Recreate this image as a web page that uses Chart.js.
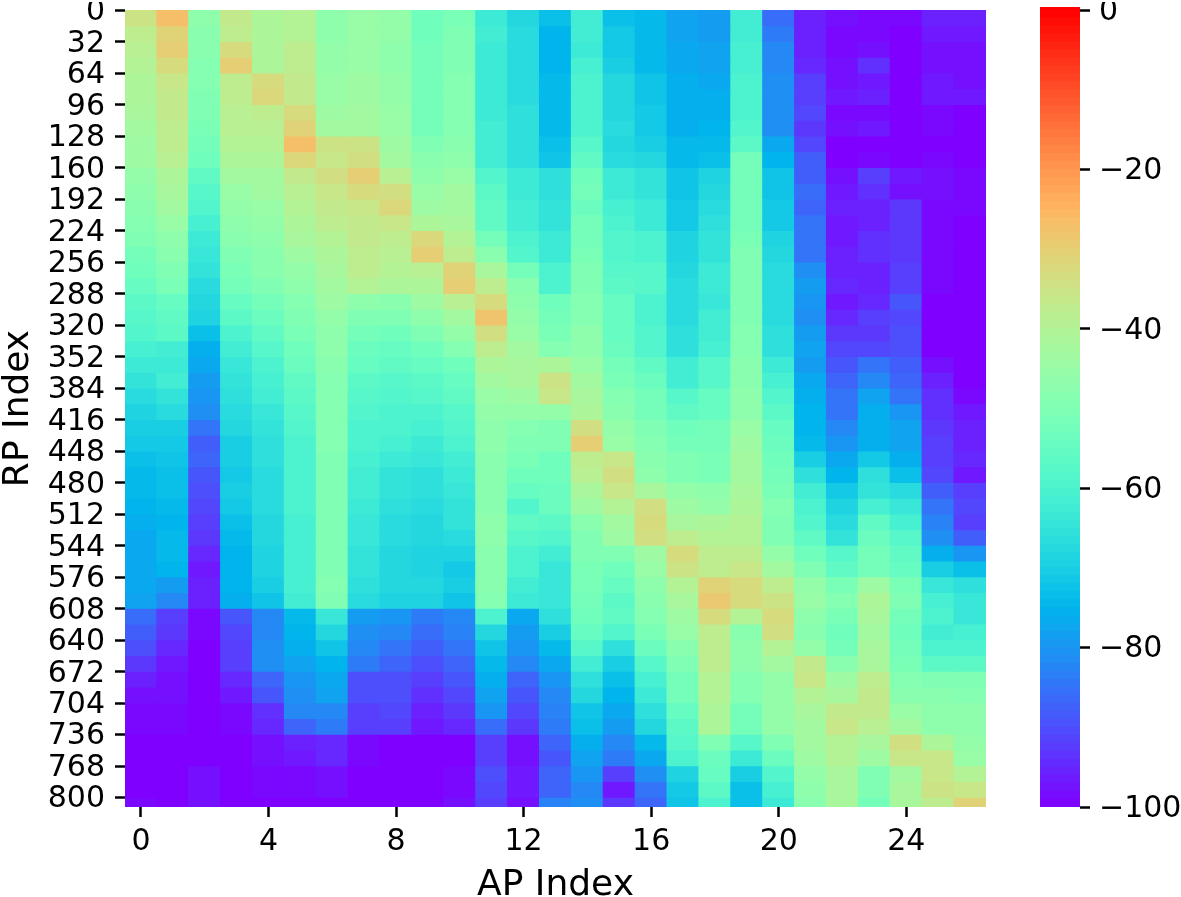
<!DOCTYPE html>
<html>
<head>
<meta charset="utf-8">
<script src="https://cdn.jsdelivr.net/npm/chart.js@4"></script>
<style>
body { margin: 0; background: #fff; }
canvas { position: absolute; top: 0; }
#heat { left: 0; }
#cbar { left: 1000px; }
</style>
</head>
<body>
<canvas id="heat" width="1000" height="897"></canvas>
<canvas id="cbar" width="181" height="897"></canvas>
<script>
const apLabels = ['0','1','2','3','4','5','6','7','8','9','10','11','12','13','14','15','16','17','18','19','20','21','22','23','24','25','26'];
const rpStarts = [0,16,32,48,64,80,96,112,128,144,160,176,192,208,224,240,256,272,288,304,320,336,352,368,384,400,416,432,448,464,480,496,512,528,544,560,576,592,608,624,640,656,672,688,704,720,736,752,768,784,800];
const rpEnd = 810;
const rpTicks = [0,32,64,96,128,160,192,224,256,288,320,352,384,416,448,480,512,544,576,608,640,672,704,736,768,800];
const apTicks = [0,4,8,12,16,20,24];
const cbarTicks = [0,-20,-40,-60,-80,-100];

// one list per AP, one value (dBm) per RP band
const rssByAp = [
[-35,-38,-39,-40,-41,-41,-42,-43,-44,-44,-46,-47,-48,-49,-50,-52,-53,-55,-57,-58,-59,-61,-63,-65,-67,-69,-70,-71,-73,-74,-74,-75,-76,-77,-77,-77,-77,-78,-86,-88,-90,-93,-96,-98,-99,-99,-100,-100,-100,-100,-99],
[-27,-31,-30,-33,-36,-37,-37,-38,-38,-39,-41,-42,-43,-45,-47,-48,-50,-51,-55,-56,-57,-62,-63,-62,-65,-67,-70,-71,-72,-73,-73,-74,-75,-74,-74,-75,-79,-82,-92,-93,-95,-97,-98,-98,-99,-99,-100,-100,-100,-100,-100],
[-47,-48,-48,-49,-49,-50,-50,-51,-52,-53,-56,-58,-59,-61,-63,-64,-65,-67,-68,-69,-73,-76,-77,-79,-80,-81,-85,-88,-87,-89,-90,-91,-92,-93,-95,-97,-96,-96,-99,-99,-100,-100,-100,-100,-100,-100,-100,-100,-98,-98,-98],
[-37,-38,-33,-30,-38,-38,-39,-39,-40,-41,-43,-45,-46,-47,-48,-50,-51,-52,-55,-57,-60,-62,-64,-65,-66,-67,-68,-70,-70,-71,-70,-71,-73,-74,-75,-75,-75,-76,-89,-91,-92,-92,-95,-97,-99,-99,-100,-100,-100,-100,-100],
[-41,-41,-41,-41,-33,-32,-38,-39,-40,-41,-43,-43,-45,-46,-47,-48,-48,-50,-52,-54,-56,-58,-60,-61,-62,-64,-65,-66,-66,-67,-67,-67,-68,-68,-69,-69,-70,-72,-82,-82,-81,-81,-87,-89,-94,-95,-98,-98,-99,-99,-100],
[-40,-40,-38,-38,-37,-37,-33,-31,-27,-32,-37,-39,-40,-41,-42,-44,-46,-47,-49,-50,-51,-53,-54,-56,-57,-58,-59,-60,-60,-60,-60,-60,-61,-61,-61,-61,-61,-62,-74,-75,-76,-78,-80,-81,-82,-87,-96,-97,-99,-99,-100],
[-47,-47,-46,-46,-45,-45,-44,-43,-35,-36,-34,-36,-37,-38,-40,-41,-42,-43,-44,-46,-47,-47,-48,-49,-49,-49,-49,-49,-50,-50,-50,-50,-50,-50,-50,-50,-49,-50,-64,-68,-72,-75,-77,-78,-82,-84,-95,-95,-98,-98,-100],
[-45,-45,-45,-45,-44,-44,-43,-43,-35,-34,-30,-33,-36,-37,-37,-38,-38,-40,-47,-50,-52,-54,-55,-57,-58,-59,-60,-60,-61,-62,-62,-63,-64,-64,-65,-65,-66,-67,-79,-81,-82,-84,-90,-90,-92,-92,-99,-99,-100,-100,-100],
[-46,-46,-47,-47,-46,-46,-45,-45,-44,-43,-39,-34,-32,-36,-38,-39,-40,-41,-48,-50,-53,-55,-56,-58,-59,-60,-60,-61,-63,-65,-65,-66,-67,-67,-68,-68,-68,-69,-80,-82,-85,-87,-90,-90,-91,-92,-100,-100,-100,-100,-100],
[-53,-53,-52,-52,-52,-52,-52,-52,-50,-48,-47,-45,-44,-41,-32,-30,-39,-41,-44,-47,-50,-53,-55,-57,-58,-60,-61,-63,-64,-66,-66,-67,-68,-68,-69,-69,-68,-69,-84,-86,-88,-90,-92,-94,-96,-97,-100,-100,-100,-100,-100],
[-51,-50,-50,-50,-49,-49,-49,-49,-48,-47,-45,-43,-43,-42,-40,-38,-31,-30,-39,-43,-46,-49,-53,-55,-56,-58,-59,-60,-62,-63,-64,-65,-65,-67,-69,-71,-70,-72,-82,-83,-85,-87,-89,-91,-93,-95,-100,-100,-99,-99,-98],
[-63,-62,-63,-63,-63,-63,-63,-62,-62,-62,-59,-57,-56,-56,-52,-48,-42,-38,-33,-28,-34,-38,-41,-43,-45,-46,-47,-47,-48,-48,-48,-48,-47,-47,-48,-48,-48,-49,-60,-68,-72,-74,-76,-78,-80,-86,-92,-92,-90,-91,-92],
[-68,-67,-67,-67,-67,-67,-66,-66,-66,-66,-63,-63,-62,-62,-60,-59,-52,-48,-47,-46,-45,-43,-42,-42,-44,-46,-49,-50,-51,-53,-55,-59,-56,-58,-60,-60,-62,-63,-77,-79,-80,-82,-87,-89,-91,-93,-98,-98,-97,-97,-98],
[-73,-75,-75,-75,-74,-74,-74,-74,-73,-72,-66,-66,-65,-65,-63,-63,-60,-60,-53,-52,-51,-49,-41,-35,-36,-46,-50,-50,-53,-53,-54,-54,-57,-59,-62,-64,-64,-64,-66,-70,-74,-77,-80,-82,-83,-84,-87,-89,-87,-87,-83],
[-62,-62,-63,-61,-60,-60,-60,-60,-58,-56,-53,-52,-54,-52,-52,-51,-50,-50,-49,-49,-47,-47,-45,-43,-42,-41,-34,-30,-38,-39,-42,-44,-48,-50,-50,-51,-51,-52,-53,-55,-58,-62,-66,-68,-72,-73,-76,-78,-80,-82,-81],
[-73,-71,-71,-70,-68,-68,-68,-67,-68,-67,-63,-63,-61,-60,-59,-59,-58,-57,-55,-55,-55,-54,-52,-51,-49,-48,-46,-45,-36,-34,-36,-40,-43,-44,-50,-53,-55,-57,-56,-59,-66,-70,-73,-75,-77,-79,-82,-84,-92,-97,-93],
[-74,-74,-74,-74,-72,-72,-71,-71,-70,-68,-65,-65,-63,-63,-60,-60,-58,-58,-60,-60,-59,-59,-56,-54,-52,-52,-50,-49,-48,-47,-42,-34,-33,-34,-44,-45,-47,-48,-49,-51,-54,-58,-61,-63,-66,-68,-74,-77,-81,-85,-87],
[-78,-78,-77,-77,-76,-76,-76,-76,-74,-74,-72,-72,-71,-71,-69,-69,-68,-67,-67,-67,-66,-66,-62,-62,-58,-56,-53,-52,-50,-50,-46,-44,-42,-38,-33,-35,-40,-42,-44,-45,-48,-50,-52,-52,-55,-57,-58,-60,-69,-71,-72],
[-79,-79,-78,-78,-77,-76,-76,-75,-74,-73,-69,-68,-67,-66,-65,-65,-63,-63,-64,-62,-62,-61,-58,-58,-55,-55,-52,-52,-51,-51,-47,-46,-41,-40,-38,-38,-31,-29,-33,-38,-38,-38,-40,-40,-41,-41,-50,-54,-55,-57,-60],
[-62,-62,-61,-61,-60,-60,-60,-59,-57,-52,-52,-52,-52,-52,-51,-50,-50,-50,-50,-50,-49,-49,-48,-48,-47,-47,-45,-44,-43,-43,-42,-41,-40,-40,-38,-36,-33,-33,-40,-48,-47,-47,-49,-49,-52,-52,-58,-63,-70,-73,-73],
[-86,-84,-82,-82,-81,-81,-81,-81,-77,-75,-72,-72,-71,-71,-69,-68,-67,-67,-67,-67,-66,-66,-63,-61,-59,-57,-55,-54,-53,-52,-51,-49,-50,-50,-46,-43,-38,-35,-33,-34,-40,-43,-46,-46,-46,-46,-50,-54,-59,-61,-63],
[-96,-96,-96,-95,-92,-92,-91,-93,-91,-88,-88,-86,-87,-85,-85,-85,-81,-79,-80,-81,-79,-78,-79,-77,-76,-75,-75,-74,-70,-66,-62,-60,-59,-56,-53,-50,-46,-45,-47,-48,-46,-37,-36,-40,-42,-43,-43,-44,-46,-47,-48],
[-98,-99,-99,-98,-98,-97,-99,-98,-100,-100,-98,-97,-96,-97,-97,-96,-96,-95,-97,-95,-93,-91,-89,-87,-85,-85,-82,-80,-77,-75,-71,-69,-67,-65,-58,-56,-51,-49,-51,-53,-52,-48,-44,-42,-37,-36,-40,-40,-42,-42,-42],
[-99,-99,-98,-94,-97,-96,-99,-97,-100,-99,-92,-94,-96,-96,-94,-94,-96,-96,-95,-92,-93,-91,-85,-82,-78,-76,-76,-76,-71,-66,-65,-61,-56,-54,-52,-52,-44,-41,-42,-43,-42,-42,-38,-37,-37,-39,-42,-44,-50,-50,-52],
[-99,-100,-100,-100,-100,-100,-100,-100,-100,-100,-97,-98,-93,-93,-93,-93,-92,-92,-89,-91,-90,-90,-88,-87,-85,-80,-78,-78,-76,-73,-67,-64,-61,-58,-56,-55,-51,-50,-52,-53,-52,-51,-49,-48,-45,-43,-34,-36,-43,-42,-42],
[-96,-97,-98,-98,-97,-97,-99,-99,-100,-99,-98,-98,-99,-99,-99,-99,-99,-99,-100,-100,-100,-100,-98,-96,-94,-94,-93,-92,-92,-91,-88,-85,-83,-81,-76,-70,-64,-61,-60,-62,-60,-57,-50,-48,-47,-47,-41,-36,-36,-35,-38],
[-96,-97,-98,-98,-98,-97,-100,-100,-100,-100,-99,-99,-99,-100,-100,-100,-100,-100,-100,-100,-100,-100,-100,-100,-99,-97,-96,-96,-95,-97,-92,-91,-92,-88,-80,-73,-66,-64,-64,-61,-60,-57,-50,-49,-47,-47,-46,-45,-40,-36,-31]
];

// matplotlib "rainbow" colormap, -100..0
function rainbow(v) {
    const t = Math.min(1, Math.max(0, (v + 100) / 100));
    const r = Math.min(1, Math.abs(2 * t - 0.5));
    const g = Math.sin(Math.PI * t);
    const b = Math.cos(Math.PI * t / 2);
    return `rgb(${Math.round(r * 255)},${Math.round(g * 255)},${Math.round(b * 255)})`;
}

function minusLabel(v) {
    return String(v).replace('-', '\u2212');
}

// y tick labels sit a touch low in the original
const nudgeYLabels = {
    id: 'nudgeYLabels',
    beforeDraw(chart) {
        const scale = chart.scales.y;
        if (scale.nudged) return;
        scale.nudged = true;
        const orig = scale.drawLabels;
        scale.drawLabels = function (area) {
            chart.ctx.save();
            chart.ctx.translate(0, 2);
            orig.call(scale, area);
            chart.ctx.restore();
        };
    }
};

const fontFam = '"DejaVu Sans"';

const heatSets = rpStarts.map((start, i) => {
    const end = i + 1 < rpStarts.length ? rpStarts[i + 1] : rpEnd;
    return {
        data: apLabels.map(() => [start, end]),
        backgroundColor: rssByAp.map(col => rainbow(col[i])),
        borderWidth: 0,
        inflateAmount: 0.6,
        barPercentage: 1,
        categoryPercentage: 1
    };
});

new Chart(document.getElementById('heat'), {
    type: 'bar',
    data: { labels: apLabels, datasets: heatSets },
    plugins: [nudgeYLabels],
    options: {
        responsive: false,
        animation: false,
        grouped: false,
        layout: { padding: { top: 10, right: 14, left: 0, bottom: 0 } },
        plugins: { legend: { display: false }, tooltip: { enabled: false } },
        scales: {
            x: {
                grid: { offset: false, drawOnChartArea: false, tickLength: 10, tickWidth: 2.5, tickColor: '#000' },
                border: { display: false },
                ticks: { color: '#000', font: { family: fontFam, size: 30 }, maxRotation: 0, autoSkip: false, padding: 7 },
                afterBuildTicks: (scale) => { scale.ticks = apTicks.map(v => ({ value: v })); },
                afterFit: (scale) => { scale.height = 90; scale.paddingLeft = 0; scale.paddingRight = 0; },
                title: { display: true, text: 'AP Index', color: '#000', font: { family: fontFam, size: 36 }, padding: { top: 0, bottom: -10 } }
            },
            y: {
                reverse: true,
                min: 0,
                max: rpEnd,
                grid: { drawOnChartArea: false, tickLength: 10, tickWidth: 2.5, tickColor: '#000' },
                border: { display: false },
                ticks: {
                    color: '#000',
                    font: { family: fontFam, size: 30 },
                    autoSkip: false,
                    padding: 10,
                    callback: (v) => String(Math.floor(v))
                },
                afterBuildTicks: (scale) => { scale.ticks = rpTicks.map(v => ({ value: v + 0.5 })); },
                afterFit: (scale) => { scale.width = 125; scale.paddingTop = 0; scale.paddingBottom = 0; },
                title: { display: true, text: 'RP Index', color: '#000', font: { family: fontFam, size: 36 }, padding: { top: -3, bottom: 0 } }
            }
        }
    }
});

// colour bar, one thin bar per dB step
const cbarSets = [];
for (let v = -100; v < 0.4; v += 1) {
    cbarSets.push({
        data: [[v, Math.min(v + 1, 0.4)]],
        backgroundColor: rainbow(v + 0.5),
        borderWidth: 0,
        inflateAmount: 0.6,
        barPercentage: 1,
        categoryPercentage: 1
    });
}

new Chart(document.getElementById('cbar'), {
    type: 'bar',
    data: { labels: ['rss'], datasets: cbarSets },
    plugins: [nudgeYLabels],
    options: {
        responsive: false,
        animation: false,
        grouped: false,
        layout: { padding: { top: 7, left: 40, right: 0, bottom: 0 } },
        plugins: { legend: { display: false }, tooltip: { enabled: false } },
        scales: {
            x: {
                display: true,
                grid: { display: false },
                border: { display: false },
                ticks: { display: false },
                afterFit: (scale) => { scale.height = 90; }
            },
            y: {
                position: 'right',
                min: -100,
                max: 0.4,
                grid: { drawOnChartArea: false, tickLength: 10, tickWidth: 2.5, tickColor: '#000' },
                border: { display: false },
                ticks: { color: '#000', font: { family: fontFam, size: 30 }, padding: 9, autoSkip: false, callback: (v) => minusLabel(v) },
                afterBuildTicks: (scale) => { scale.ticks = cbarTicks.map(v => ({ value: v })); },
                afterFit: (scale) => { scale.width = 101; scale.paddingTop = 0; scale.paddingBottom = 0; }
            }
        }
    }
});
</script>
</body>
</html>
